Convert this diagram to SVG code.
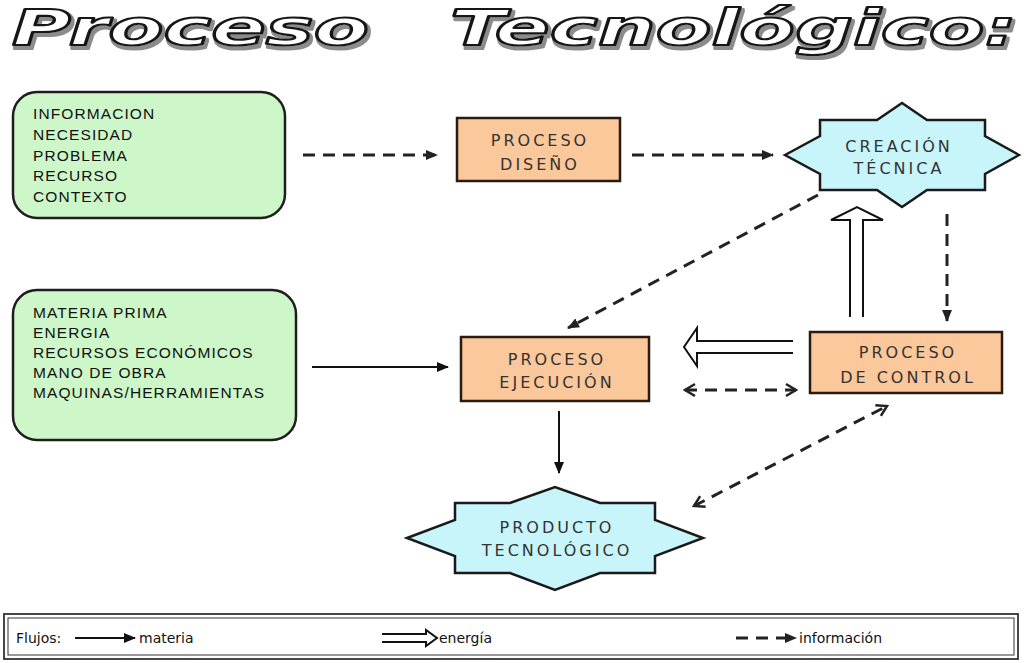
<svg xmlns="http://www.w3.org/2000/svg" width="1024" height="663" viewBox="0 0 1024 663">
  <style>
    .title { font-family: "DejaVu Sans", sans-serif; font-weight: bold; font-style: italic; font-size: 50px; fill: #ffffff; stroke: #151515; stroke-width: 2.2; stroke-linejoin: round; }
    .input { fill: #cdf6c9; stroke: #1e1e1e; stroke-width: 2.5; }
    .input-text { font-family: "Liberation Sans", Arial, sans-serif; font-size: 15.5px; letter-spacing: 1.1px; fill: #111; }
    .process { fill: #fac89b; stroke: #2a1a10; stroke-width: 2.5; }
    .star { fill: #c8f5fa; stroke: #1a1a1a; stroke-width: 2.5; stroke-linejoin: miter; }
    .label { font-family: "DejaVu Sans", sans-serif; font-size: 16px; letter-spacing: 3px; fill: #333; text-anchor: middle; }
    .matter { stroke: #111; stroke-width: 2; fill: none; }
    .info { stroke: #222; stroke-width: 3; stroke-dasharray: 12 8; fill: none; }
    .energy { stroke: #111; stroke-width: 2; fill: #fff; stroke-linejoin: miter; }
    .legend-frame { fill: #fff; stroke: #333; }
    .legend-text { font-family: "DejaVu Sans", sans-serif; font-size: 14px; fill: #111; }
  </style>
  <defs>
    <filter id="titleShadow" x="-5%" y="-30%" width="110%" height="170%">
      <feOffset in="SourceAlpha" dx="2" dy="3" result="off"/>
      <feMorphology in="off" operator="dilate" radius="1" result="thick"/>
      <feFlood flood-color="#8c8c8c"/>
      <feComposite operator="in" in2="thick" result="shade"/>
      <feMerge>
        <feMergeNode in="shade"/>
        <feMergeNode in="SourceGraphic"/>
      </feMerge>
    </filter>
    <marker id="headSolid" markerUnits="userSpaceOnUse" markerWidth="12" markerHeight="10" refX="11" refY="5" orient="auto">
      <path d="M0,0 L12,5 L0,10 Z" fill="#111"/>
    </marker>
    <marker id="headInfo" markerUnits="userSpaceOnUse" markerWidth="12" markerHeight="10" refX="11" refY="5" orient="auto">
      <path d="M0,0 L12,5 L0,10 Z" fill="#222"/>
    </marker>
    <marker id="chevron" markerUnits="userSpaceOnUse" markerWidth="14" markerHeight="16" refX="12" refY="8" orient="auto-start-reverse">
      <path d="M2,2 L12,8 L2,14" fill="none" stroke="#222" stroke-width="2.5"/>
    </marker>
  </defs>

  <!-- heading -->
  <g id="title" filter="url(#titleShadow)">
    <text class="title" x="12" y="45" textLength="357" lengthAdjust="spacingAndGlyphs">Proceso</text>
    <text class="title" x="450" y="45" textLength="567" lengthAdjust="spacingAndGlyphs">Tecnológico:</text>
  </g>

  <!-- connectors -->
  <g id="connectors">
    <!-- information flows -->
    <line class="info" x1="303" y1="155" x2="437" y2="155" marker-end="url(#headInfo)"/>
    <line class="info" x1="632" y1="155" x2="773" y2="155" marker-end="url(#headInfo)"/>
    <line class="info" x1="818" y1="195" x2="568" y2="328" marker-end="url(#headInfo)"/>
    <line class="info" x1="947" y1="214" x2="947" y2="321" marker-end="url(#headInfo)"/>
    <line class="info" x1="685" y1="390" x2="796" y2="390" marker-start="url(#chevron)" marker-end="url(#chevron)"/>
    <line class="info" x1="694" y1="506" x2="887" y2="406" marker-start="url(#chevron)" marker-end="url(#chevron)"/>
    <!-- matter flows -->
    <line class="matter" x1="312" y1="367" x2="448" y2="367" marker-end="url(#headSolid)"/>
    <line class="matter" x1="559" y1="411" x2="559" y2="473" marker-end="url(#headSolid)"/>
    <!-- energy flows -->
    <path class="energy" d="M793,341 L697,341 L697,328 L684,347 L697,366 L697,353 L793,353"/>
    <path class="energy" d="M850,317 L850,220 L831,220 L857,207 L883,220 L863,220 L863,317"/>
  </g>

  <!-- inputs -->
  <g id="inputs-design">
    <rect class="input" x="13" y="92" width="272" height="126" rx="24"/>
    <text class="input-text" x="33" y="119">INFORMACION</text>
    <text class="input-text" x="33" y="140">NECESIDAD</text>
    <text class="input-text" x="33" y="161">PROBLEMA</text>
    <text class="input-text" x="33" y="181">RECURSO</text>
    <text class="input-text" x="33" y="202">CONTEXTO</text>
  </g>
  <g id="inputs-execution">
    <rect class="input" x="13" y="290" width="283" height="150" rx="24"/>
    <text class="input-text" x="33" y="318">MATERIA PRIMA</text>
    <text class="input-text" x="33" y="338">ENERGIA</text>
    <text class="input-text" x="33" y="358">RECURSOS ECONÓMICOS</text>
    <text class="input-text" x="33" y="378">MANO DE OBRA</text>
    <text class="input-text" x="33" y="398">MAQUINAS/HERRAMIENTAS</text>
  </g>

  <!-- processes -->
  <g id="proceso-diseno">
    <rect class="process" x="457" y="118" width="163" height="63"/>
    <text class="label" x="540" y="146">PROCESO</text>
    <text class="label" x="540" y="170">DISEÑO</text>
  </g>
  <g id="proceso-ejecucion">
    <rect class="process" x="461" y="337" width="188" height="64"/>
    <text class="label" x="557" y="365">PROCESO</text>
    <text class="label" x="557" y="388">EJECUCIÓN</text>
  </g>
  <g id="proceso-control">
    <rect class="process" x="810" y="332" width="192" height="61"/>
    <text class="label" x="908" y="358">PROCESO</text>
    <text class="label" x="908" y="383">DE CONTROL</text>
  </g>

  <!-- results -->
  <g id="creacion-tecnica">
    <path class="star" d="M785,155 L820,136 L820,120 L877,120 L902,103 L927,120 L985,120 L985,136 L1019,155 L985,174 L985,190 L927,190 L902,207 L877,190 L820,190 L820,174 Z"/>
    <text class="label" x="899" y="152">CREACIÓN</text>
    <text class="label" x="899" y="174">TÉCNICA</text>
  </g>
  <g id="producto-tecnologico">
    <path class="star" d="M407,538 L455,520 L455,503 L510,503 L555,487 L600,503 L655,503 L655,520 L703,538 L655,556 L655,573 L600,573 L555,590 L510,573 L455,573 L455,556 Z"/>
    <text class="label" x="557" y="533">PRODUCTO</text>
    <text class="label" x="557" y="556">TECNOLÓGICO</text>
  </g>

  <!-- key -->
  <g id="legend">
    <rect class="legend-frame" x="4" y="614" width="1014" height="45" stroke-width="1.8"/>
    <rect class="legend-frame" x="8" y="618" width="1006" height="37" stroke-width="1"/>
    <text class="legend-text" x="16" y="643">Flujos:</text>
    <line class="matter" x1="75" y1="638" x2="135" y2="638" marker-end="url(#headSolid)"/>
    <text class="legend-text" x="139" y="643">materia</text>
    <path class="energy" stroke-width="1.3" d="M382,634 L426,634 L426,630 L437,638 L426,646 L426,642 L382,642"/>
    <text class="legend-text" x="439" y="643">energía</text>
    <line class="info" stroke-width="2.5" stroke-dasharray="8 6" x1="736" y1="638" x2="796" y2="638" marker-end="url(#headInfo)"/>
    <text class="legend-text" x="799" y="643">información</text>
  </g>
</svg>
